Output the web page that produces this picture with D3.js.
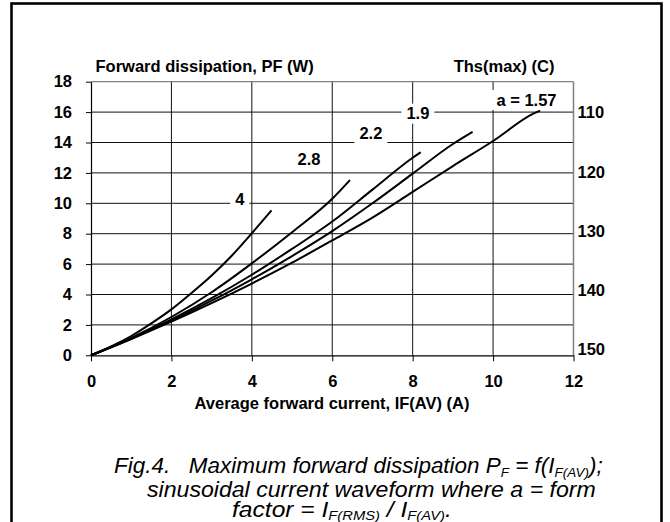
<!DOCTYPE html>
<html>
<head>
<meta charset="utf-8">
<script src="https://cdn.jsdelivr.net/npm/d3@7/dist/d3.min.js"></script>
<style>
  html, body { margin: 0; padding: 0; background: #fff; }
  svg { display: block; }
  text { font-family: "Liberation Sans", Arial, sans-serif; }
</style>
</head>
<body>
<svg id="chart" width="670" height="522"></svg>
<script>
// ---- data ----
const currentTicks = [0, 2, 4, 6, 8, 10, 12];
const powerTicks = [0, 2, 4, 6, 8, 10, 12, 14, 16, 18];
const tempTicks = [110, 120, 130, 140, 150];

const formFactors = ["4", "2.8", "2.2", "1.9", "a = 1.57"];

const currentA4 = [0, 0.5, 1, 1.5, 2, 2.5, 3, 3.5, 4, 4.49];
const powerA4 = [0, 0.58, 1.27, 2.1, 3.02, 4.1, 5.25, 6.55, 8.03, 9.53];

const currentA28 = [0, 1, 2, 3, 4, 5, 6, 6.44];
const powerA28 = [0, 1.15, 2.52, 4.15, 6.05, 8.1, 10.3, 11.53];

const currentA22 = [0, 1, 2, 3, 4, 5, 6, 7, 8, 8.2];
const powerA22 = [0, 1.1, 2.36, 3.76, 5.3, 7.0, 8.8, 10.9, 13.0, 13.36];

const currentA19 = [0, 1, 2, 3, 4, 5, 6, 7, 8, 9, 9.49];
const powerA19 = [0, 1.09, 2.28, 3.59, 5.0, 6.53, 8.17, 10.0, 11.95, 13.9, 14.7];

const currentA157 = [0, 1, 2, 3, 4, 5, 6, 7, 8, 9, 10, 11, 11.17];
const powerA157 = [0, 1.07, 2.21, 3.43, 4.72, 6.09, 7.56, 9.06, 10.75, 12.45, 14.1, 15.9, 16.1];

// label anchor points (data coords) for each curve label
const labelCurrent = [3.7, 5.42, 6.96, 8.13, 10.83];
const labelPower = [10.3, 12.9, 14.6, 15.9, 16.8];

const yTitle = "Forward dissipation, PF (W)";
const yRightTitle = "Ths(max) (C)";
const xTitle = "Average forward current, IF(AV) (A)";

(function () {
// ---- layout ----
const svg = d3.select("#chart");
const pLeft = 91, pRight = 573.5, pTop = 81.7, pBottom = 355.3;

const x = d3.scaleLinear().domain([0, 12]).range([pLeft, pRight]);
const y = d3.scaleLinear().domain([0, 18]).range([pBottom, pTop]);
const yR = d3.scaleLinear().domain([150.8, 104.6]).range([pBottom, pTop]);

svg.append("rect").attr("width", 670).attr("height", 522).attr("fill", "#fff");

// outer frame
svg.append("rect")
  .attr("x", 11.5).attr("y", 3.5).attr("width", 650).attr("height", 560)
  .attr("fill", "none").attr("stroke", "#000").attr("stroke-width", 2.6);

const g = svg.append("g");

// grid
g.selectAll(".vg").data(currentTicks.slice(1, -1)).enter().append("line")
  .attr("x1", d => x(d)).attr("x2", d => x(d))
  .attr("y1", pTop).attr("y2", pBottom)
  .attr("stroke", "#111").attr("stroke-width", 1);
g.selectAll(".hg").data(powerTicks.slice(1, -1)).enter().append("line")
  .attr("x1", pLeft).attr("x2", pRight)
  .attr("y1", d => y(d)).attr("y2", d => y(d))
  .attr("stroke", "#111").attr("stroke-width", 1);

// top and right border (gray)
g.append("line").attr("x1", pLeft).attr("x2", pRight).attr("y1", pTop).attr("y2", pTop)
  .attr("stroke", "#808080").attr("stroke-width", 1.2);
g.append("line").attr("x1", pRight).attr("x2", pRight).attr("y1", pTop).attr("y2", pBottom)
  .attr("stroke", "#808080").attr("stroke-width", 1.5);

// axes
const xAxis = d3.axisBottom(x).tickValues(currentTicks).tickSize(6).tickSizeOuter(0).tickPadding(14);
const gx = g.append("g").attr("transform", `translate(0,${pBottom})`).call(xAxis);
const yAxis = d3.axisLeft(y).tickValues(powerTicks).tickSize(5).tickSizeOuter(0).tickPadding(14);
const gy = g.append("g").attr("transform", `translate(${pLeft},0)`).call(yAxis);
const yAxisR = d3.axisRight(yR).tickValues(tempTicks).tickSize(0).tickPadding(4);
const gyr = g.append("g").attr("transform", `translate(${pRight},0)`).call(yAxisR);

[gx, gy, gyr].forEach(a => {
  a.selectAll("text").attr("font-family", "Liberation Sans, Arial, sans-serif")
    .attr("font-size", 16.5).attr("font-weight", "bold").attr("fill", "#000");
  a.selectAll("line").attr("stroke", "#000");
  a.select(".domain").attr("stroke", "#000").attr("stroke-width", 1.2);
});
gx.selectAll("text").attr("dy", "0.71em");
gyr.select(".domain").remove();
gyr.selectAll("text").attr("dy", "0.35em").attr("transform", "translate(0,-1.5)");

// curves
const series = [
  [currentA4, powerA4],
  [currentA28, powerA28],
  [currentA22, powerA22],
  [currentA19, powerA19],
  [currentA157, powerA157]
];
const line = d3.line().x(d => x(d[0])).y(d => y(d[1])).curve(d3.curveMonotoneX);
series.forEach(([cs, ps]) => {
  g.append("path")
    .attr("d", line(cs.map((c, i) => [c, ps[i]])))
    .attr("fill", "none").attr("stroke", "#000").attr("stroke-width", 2);
});

// curve labels with white boxes
formFactors.forEach((t, i) => {
  const lg = g.append("g").attr("transform", `translate(${x(labelCurrent[i])},${y(labelPower[i])})`);
  const txt = lg.append("text").text(t)
    .attr("text-anchor", "middle").attr("dy", "0.35em")
    .attr("font-size", 16.5).attr("font-weight", "bold");
  const w = txt.node().getComputedTextLength();
  lg.insert("rect", "text")
    .attr("x", -w / 2 - 5).attr("y", -10).attr("width", w + 10).attr("height", 20)
    .attr("fill", "#fff");
});

// titles
svg.append("text").text(yTitle).attr("x", 95.5).attr("y", 71.5)
  .attr("font-size", 16.5).attr("font-weight", "bold");
svg.append("text").text(yRightTitle).attr("x", 554.5).attr("y", 71.5)
  .attr("text-anchor", "end").attr("font-size", 16.5).attr("font-weight", "bold");
svg.append("text").text(xTitle).attr("x", 332).attr("y", 408.5)
  .attr("text-anchor", "middle").attr("font-size", 16.5).attr("font-weight", "bold");

// caption
const cap = svg.append("g").attr("font-style", "italic").attr("font-size", 22.5);
const sub = (t, s, d) => t.append("tspan").text(s).attr("font-size", 13.5).attr("dy", d);
const up = (t, s, d) => t.append("tspan").text(s).attr("dy", -d);

function fit(t, x0, y0, targetW) {
  const w = t.node().getComputedTextLength();
  t.attr("x", 0).attr("y", 0)
    .attr("transform", `translate(${x0},${y0}) scale(${targetW / w},1)`);
}

const l1 = cap.append("text");
l1.append("tspan").text("Fig.4.\u00a0\u00a0\u00a0Maximum forward dissipation P");
sub(l1, "F", 4);
up(l1, " = f(I", 4);
sub(l1, "F(AV)", 4);
up(l1, ");", 4);
fit(l1, 114, 473, 489);

const l2 = cap.append("text").text("sinusoidal current waveform where a = form");
fit(l2, 147, 496.5, 449);

const l3 = cap.append("text");
l3.append("tspan").text("factor = I");
sub(l3, "F(RMS)", 3);
up(l3, " / I", 3);
sub(l3, "F(AV)", 3);
up(l3, ".", 3);
fit(l3, 232, 516.5, 220);
})();
</script>
</body>
</html>
